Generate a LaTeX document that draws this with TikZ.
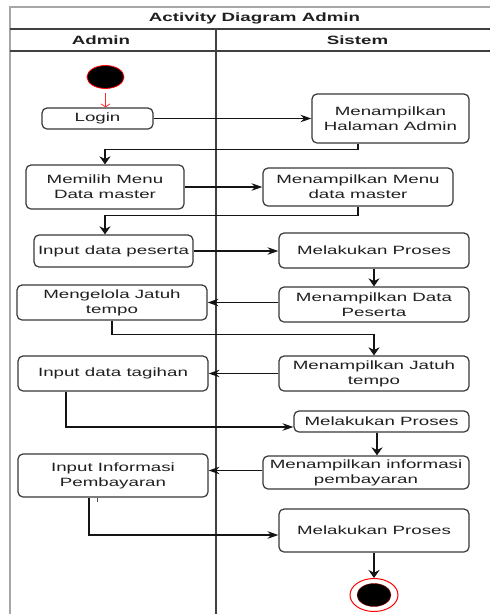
\documentclass[tikz,border=0pt]{standalone}
\usepackage{fontspec}
\setmainfont{Liberation Sans}[FakeStretch=1.56]
\usetikzlibrary{arrows.meta,shapes.geometric}
\begin{document}
\begin{tikzpicture}[x=1pt,y=-1pt,
  txt/.style={font=\fontsize{12}{15}\selectfont, text=black!88, inner sep=0pt},
  head/.style={font=\bfseries\fontsize{12}{15}\selectfont, text=black!88, inner sep=0pt},
  act/.style={txt, draw=black!78, line width=1.2pt, rounded corners=5pt, align=center},
  sz/.style 2 args={minimum width=#1pt, minimum height=#2pt},
  flow/.style={draw=black!92, line width=1.1pt},
  harr/.style={flow, -{Stealth[length=11pt,width=7.5pt]}},
  varr/.style={flow, -{Stealth[length=8pt,width=11pt]}},
  lane/.style={draw=black!75, line width=1.2pt},
  border/.style={draw=black!35, line width=1.4pt}]
\useasboundingbox (0,0) rectangle (490,614);

% swimlane frame
\draw[border] (10,614) -- (10,7) -- (490,7);
\draw[lane] (10,29) -- (490,29);
\draw[lane] (10,51) -- (490,51);
\draw[lane] (216,29) -- (216,614);
\node[head] (title) at (254.5,18) {Activity Diagram Admin};
\node[head] (laneA) at (101,40) {Admin};
\node[head] (laneS) at (357.5,40) {Sistem};

% start and end
\node[ellipse, fill=black, draw=red, line width=0.8pt, inner sep=0pt, sz={37}{23}] (start) at (105.5,77) {};
\node[ellipse, draw=red, line width=1pt, fill=white, inner sep=0pt, sz={48}{33}] (stop) at (374,595) {};
\node[ellipse, fill=black, draw=red!60!black, line width=0.4pt, inner sep=0pt, sz={34}{23}] (stopdot) at (stop.center) {};

% activities
\node[act, sz={111}{21}] (login) at (97.5,118.5) {Login};
\node[act, sz={157}{49}] (halaman) at (390.5,118.5) {Menampilkan\\Halaman Admin};
\node[act, sz={158}{44}] (memilih) at (105,187) {Memilih Menu\\Data master};
\node[act, sz={190}{38}] (menudm) at (358,187) {Menampilkan Menu\\data master};
\node[act, sz={159}{32}] (inputps) at (113.5,251) {Input data peserta};
\node[act, sz={190}{35}] (proses1) at (374,250.5) {Melakukan Proses};
\node[act, sz={190}{35}] (datapes) at (374,304.5) {Menampilkan Data\\Peserta};
\node[act, sz={190}{35}] (jatuh) at (112,302.5) {Mengelola Jatuh\\tempo};
\node[act, sz={190}{35}] (tampjatuh) at (374,373.5) {Menampilkan Jatuh\\tempo};
\node[act, sz={190}{35}] (tagihan) at (113,373.5) {Input data tagihan};
\node[act, sz={175}{21}] (proses2) at (381.5,421.5) {Melakukan Proses};
\node[act, sz={206}{33}] (infobayar) at (366,472.5) {Menampilkan informasi\\pembayaran};
\node[act, sz={190}{43}] (inputinfo) at (113,475.5) {Input Informasi\\Pembayaran};
\node[act, sz={190}{43}] (proses3) at (374,530.5) {Melakukan Proses};

% flows
\draw[draw=red!85, line width=0.8pt, shorten <=4pt, -{Straight Barb[length=3pt,width=9pt]}]
  (start.south) -- (start.south |- login.north);
\draw[harr] (login.east) -- (login.east -| halaman.west);
\draw[varr] ([xshift=-32.5pt]halaman.south) -- ++(0,6) -| (memilih.north);
\draw[harr] (memilih.east) -- (memilih.east -| menudm.west);
\draw[varr] (menudm.south) -- ++(0,9) -| ([xshift=-8.5pt]inputps.north);
\draw[harr] (inputps.east) -- (inputps.east -| proses1.west);
\draw[varr] (proses1.south) -- (datapes.north);
\draw[harr] ([yshift=2pt]datapes.west) -- ([yshift=2pt]datapes.west -| jatuh.east);
\draw[varr] (jatuh.south) -- ++(0,14) -| (tampjatuh.north);
\draw[harr] (tampjatuh.west) -- (tampjatuh.west -| tagihan.east);
\draw[harr] ([xshift=-47pt]tagihan.south) |- ([yshift=-5.5pt]proses2.west);
\draw[varr] ([xshift=-4.5pt]proses2.south) -- ([xshift=-4.5pt]proses2.south |- infobayar.north);
\draw[harr] ([yshift=2pt]infobayar.west) -- ([yshift=2pt]infobayar.west -| inputinfo.east);
\draw[harr] ([xshift=-24pt]inputinfo.south) |- ([yshift=-4.5pt]proses3.west);
\draw[varr] (proses3.south) -- (stop.north);

% small stray tick under the payment box
\draw[black!70, line width=0.8pt] ([xshift=-16pt]inputinfo.south) -- ++(0,4);
\end{tikzpicture}
\end{document}
